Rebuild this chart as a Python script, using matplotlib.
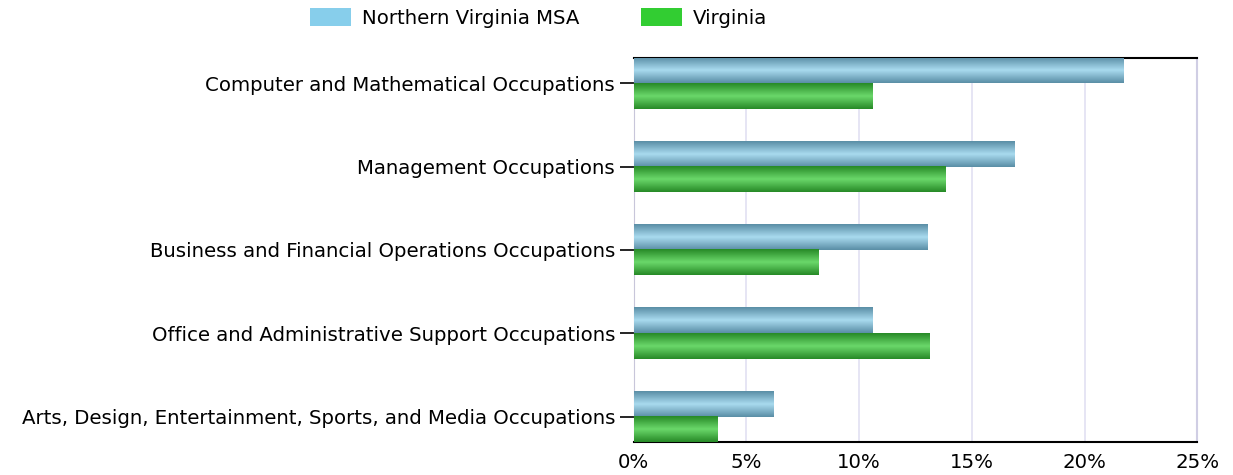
import matplotlib
matplotlib.use('Agg', force=True)

import numpy as np
import matplotlib.pyplot as plt
from matplotlib.colors import LinearSegmentedColormap
from matplotlib.patches import Patch
from matplotlib.ticker import FuncFormatter

# data
categories = [
    "Computer and Mathematical Occupations",
    "Management Occupations",
    "Business and Financial Operations Occupations",
    "Office and Administrative Support Occupations",
    "Arts, Design, Entertainment, Sports, and Media Occupations",
]
nova_msa = [21.7, 16.9, 13.0, 10.6, 6.2]
virginia = [10.6, 13.8, 8.2, 13.1, 3.7]
series_names = ["Northern Virginia MSA", "Virginia"]
xticks = [0, 5, 10, 15, 20, 25]

legend_colors = ["#87ceeb", "#32cd32"]
grad_nv = LinearSegmentedColormap.from_list("nv", ["#5a8ea6", "#a9dbef", "#5a8ea6"])
grad_va = LinearSegmentedColormap.from_list("va", ["#278a27", "#6bd86b", "#278a27"])

FS = 14.2

fig = plt.figure(figsize=(12.33, 4.75), dpi=100)
ax = fig.add_axes([0.514, 0.0695, 0.457, 0.8085])

y = np.arange(len(categories))
h = 0.305
bars_nv = ax.barh(y - h / 2, nova_msa, height=h, color="none", edgecolor="none")
bars_va = ax.barh(y + h / 2, virginia, height=h, color="none", edgecolor="none")

# fake the cylinder shading by painting a gradient inside each bar
grad = np.linspace(0, 1, 64).reshape(-1, 1)
for bars, cmap in [(bars_nv, grad_nv), (bars_va, grad_va)]:
    for p in bars:
        x0, y0, w, hh = p.get_x(), p.get_y(), p.get_width(), p.get_height()
        ax.imshow(grad, cmap=cmap, aspect="auto", extent=[x0, x0 + w, y0 + hh, y0],
                  zorder=3, interpolation="bilinear")

ax.set_xlim(0, 25)
ax.set_ylim(4 + h, -h)
ax.set_xticks(xticks)
ax.xaxis.set_major_formatter(FuncFormatter(lambda v, _: f"{v:.0f}%"))
ax.set_yticks(y)
ax.set_yticklabels(categories)

ax.grid(axis="x", color="#e2e0f2", linewidth=1.2, zorder=0)
ax.set_axisbelow(True)
ax.tick_params(axis="x", length=0, pad=8, labelsize=FS)
ax.tick_params(axis="y", length=10, width=1.2, pad=3.5, labelsize=FS)

for s in ["top", "bottom"]:
    ax.spines[s].set_color("black")
    ax.spines[s].set_linewidth(1.5)
ax.spines["left"].set_color("#c8c6da")
ax.spines["right"].set_color("#d0cee4")
ax.spines["right"].set_linewidth(1.5)

handles = [Patch(facecolor=c, edgecolor="none") for c in legend_colors]
fig.legend(handles, series_names, loc="upper left", bbox_to_anchor=(310 / 1233, 1 - 8 / 475),
           ncol=2, frameon=False, fontsize=FS, handlelength=2.1, handleheight=1.05,
           columnspacing=3.1, handletextpad=0.55, borderpad=0, borderaxespad=0)

fig.savefig("out.png", dpi=100)
plt.close(fig)
